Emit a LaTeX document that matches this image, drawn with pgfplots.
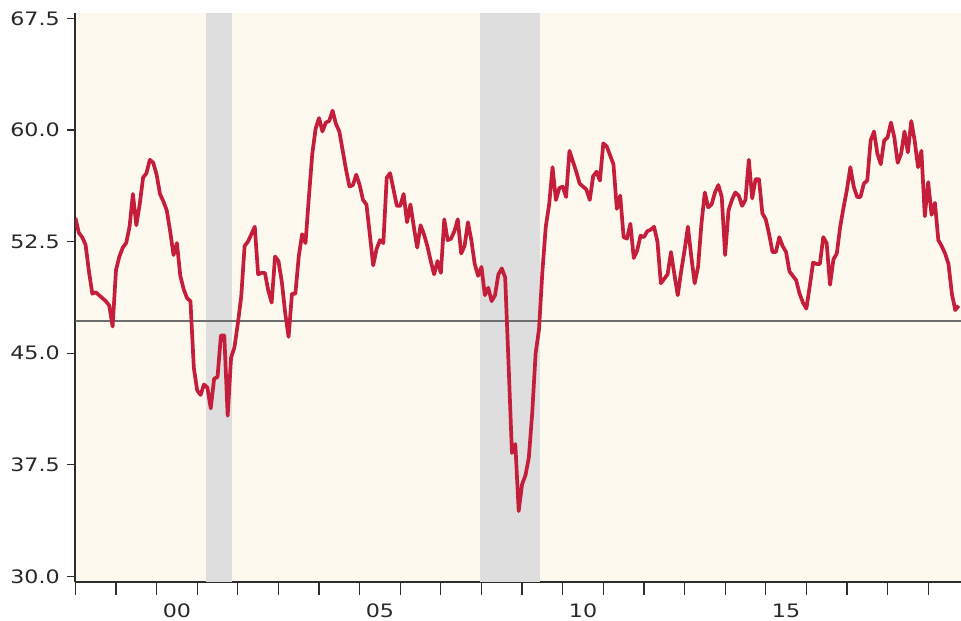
\documentclass[border=0pt]{standalone}
\usepackage{fontspec}
\setmainfont{DejaVu Sans}[FakeStretch=1.2]
\usepackage{pgfplots}
\pgfplotsset{compat=1.18}
\definecolor{bgc}{RGB}{254,249,239}
\definecolor{recc}{RGB}{222,222,222}
\definecolor{linec}{RGB}{196,30,58}
\definecolor{refc}{RGB}{110,110,110}
\definecolor{axc}{RGB}{45,45,45}
\definecolor{txc}{RGB}{40,40,40}
\begin{document}
\begin{tikzpicture}
\begin{axis}[
  name=ax,
  scale only axis,
  width=442.8pt, height=284.3pt,
  xmin=0, xmax=261.7,
  ymin=29.66, ymax=67.86,
  axis x line*=bottom, axis y line*=left,
  axis line style={-, draw=axc, line width=1pt},
  axis background/.style={fill=bgc},
  clip=true,
  tick align=outside,
  xtick={0,12,...,252},
  xticklabels={},
  xtick style={draw=axc, line width=0.6pt, /pgfplots/major tick length=6.6pt},
  extra x ticks={30,90,150,210},
  extra x tick labels={00,05,10,15},
  extra x tick style={xtick style={draw=none, /pgfplots/major tick length=0pt}, xticklabel style={yshift=-3.2pt}},
  ytick={30,37.5,45,52.5,60,67.5},
  ytick style={draw=axc, line width=0.6pt, /pgfplots/major tick length=4pt},
  yticklabel style={/pgf/number format/.cd, fixed, fixed zerofill, precision=1, assume math mode=true},
  ticklabel style={font=\fontsize{9.25}{11}\selectfont, text=txc},
  minor tick num=0,
]
% recession shading
\addplot[fill=recc, draw=none] coordinates {(38.6,29.66) (38.6,67.86) (46.3,67.86) (46.3,29.66)} -- cycle;
\addplot[fill=recc, draw=none] coordinates {(119.6,29.66) (119.6,67.86) (137.3,67.86) (137.3,29.66)} -- cycle;
% reference line
\addplot[refc, line width=1pt] coordinates {(0,47.15) (261.7,47.15)};
% PMI
\addplot[linec, line width=1.85pt, line join=round] coordinates {
(0,54.1)(1,53.1)(2,52.8)(3,52.3)(4,50.5)(5,49.0)(6,49.1)(7,48.9)(8,48.7)(9,48.5)(10,48.2)(11,46.8)
(12,50.6)(13,51.5)(14,52.1)(15,52.4)(16,53.5)(17,55.7)(18,53.6)(19,55.0)(20,56.8)(21,57.1)(22,58.0)(23,57.8)
(24,57.0)(25,55.7)(26,55.2)(27,54.6)(28,53.2)(29,51.6)(30,52.4)(31,50.2)(32,49.3)(33,48.7)(34,48.5)(35,44.0)
(36,42.5)(37,42.2)(38,42.9)(39,42.7)(40,41.3)(41,43.3)(42,43.4)(43,46.2)(44,46.2)(45,40.8)(46,44.7)(47,45.4)
(48,47.0)(49,48.8)(50,52.2)(51,52.5)(52,53.0)(53,53.5)(54,50.3)(55,50.4)(56,50.4)(57,49.2)(58,48.4)(59,51.5)
(60,51.2)(61,49.8)(62,47.7)(63,46.1)(64,49.0)(65,49.0)(66,51.5)(67,53.0)(68,52.4)(69,55.5)(70,58.4)(71,60.1)
(72,60.8)(73,59.9)(74,60.5)(75,60.6)(76,61.3)(77,60.4)(78,59.9)(79,58.6)(80,57.3)(81,56.2)(82,56.3)(83,57.0)
(84,56.3)(85,55.3)(86,55.0)(87,53.0)(88,50.9)(89,52.0)(90,52.6)(91,52.4)(92,56.8)(93,57.1)(94,56.0)(95,54.9)
(96,54.9)(97,55.7)(98,53.8)(99,55.0)(100,53.5)(101,52.1)(102,53.6)(103,53.0)(104,52.2)(105,51.2)(106,50.3)(107,51.2)
(108,50.4)(109,54.0)(110,52.6)(111,52.7)(112,53.2)(113,54.0)(114,51.7)(115,52.2)(116,53.8)(117,52.6)(118,51.0)(119,50.2)
(120,50.8)(121,48.9)(122,49.4)(123,48.5)(124,48.9)(125,50.3)(126,50.7)(127,50.1)(128,44.3)(129,38.3)(130,38.9)(131,34.4)
(132,36.2)(133,36.8)(134,38.0)(135,41.0)(136,45.0)(137,46.6)(138,50.5)(139,53.5)(140,55.0)(141,57.5)(142,55.3)(143,56.1)
(144,56.2)(145,55.5)(146,58.6)(147,57.9)(148,57.2)(149,56.4)(150,56.2)(151,56.0)(152,55.3)(153,56.9)(154,57.2)(155,56.6)
(156,59.1)(157,58.9)(158,58.3)(159,57.7)(160,54.7)(161,55.6)(162,52.8)(163,52.7)(164,53.7)(165,51.4)(166,51.9)(167,52.9)
(168,52.8)(169,53.2)(170,53.3)(171,53.5)(172,52.5)(173,49.7)(174,50.0)(175,50.3)(176,51.8)(177,50.3)(178,48.9)(179,50.5)
(180,51.9)(181,53.5)(182,51.5)(183,49.7)(184,50.8)(185,53.7)(186,55.8)(187,54.8)(188,55.0)(189,55.8)(190,56.3)(191,55.5)
(192,51.6)(193,54.6)(194,55.3)(195,55.8)(196,55.6)(197,54.9)(198,55.3)(199,58.0)(200,55.4)(201,56.7)(202,56.7)(203,54.4)
(204,54.0)(205,53.0)(206,51.8)(207,51.8)(208,52.8)(209,52.2)(210,51.8)(211,50.5)(212,50.2)(213,49.9)(214,49.0)(215,48.4)
(216,48.0)(217,49.5)(218,51.1)(219,51.0)(220,51.0)(221,52.8)(222,52.4)(223,49.6)(224,51.3)(225,51.7)(226,53.5)(227,54.8)
(228,56.0)(229,57.5)(230,56.2)(231,55.5)(232,55.5)(233,56.4)(234,56.6)(235,59.3)(236,59.9)(237,58.4)(238,57.7)(239,59.3)
(240,59.5)(241,60.5)(242,59.5)(243,57.8)(244,58.4)(245,59.9)(246,58.5)(247,60.6)(248,59.3)(249,57.5)(250,58.6)(251,54.2)
(252,56.5)(253,54.3)(254,55.1)(255,52.6)(256,52.2)(257,51.7)(258,51.0)(259,49.0)(260,47.9)(261,48.2)
};
\end{axis}
\pgfresetboundingbox
\path[use as bounding box] ([xshift=-37.7pt,yshift=-19.65pt]ax.south west) rectangle ([yshift=6.5pt]ax.north east);
\end{tikzpicture}
\end{document}
